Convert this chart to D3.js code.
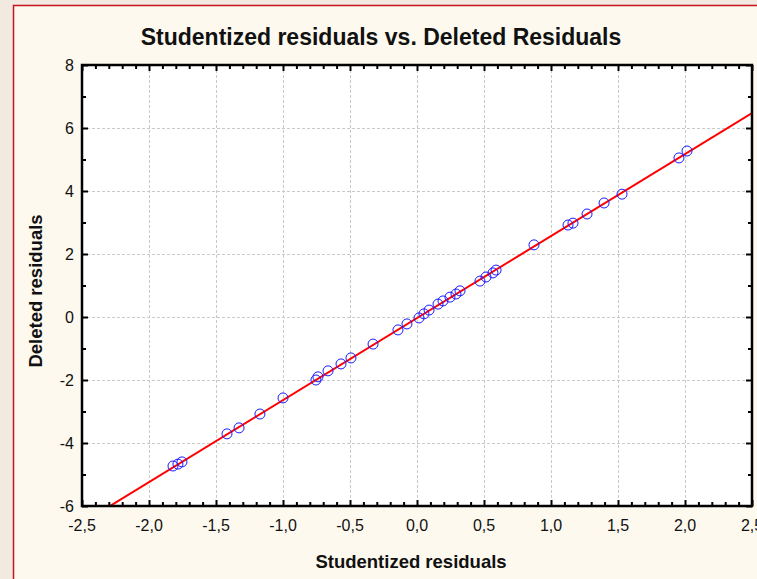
<!DOCTYPE html>
<html>
<head>
<meta charset="utf-8">
<script src="https://cdn.jsdelivr.net/npm/d3@7"></script>
<style>
  html, body { margin: 0; padding: 0; background: #f2e9e1; }
  svg { display: block; }
  text { font-family: "Liberation Sans", Arial, sans-serif; fill: #111; }
</style>
</head>
<body>
<svg id="chart" width="757" height="579"></svg>
<script>
// Residual pairs: studentized residual (x) and deleted residual (y)
const studentized = [
  -1.821, -1.784, -1.754, -1.418, -1.328, -1.172, -1.000, -0.754, -0.739,
  -0.664, -0.567, -0.493, -0.328, -0.142, -0.075, 0.015, 0.052, 0.090,
  0.157, 0.194, 0.246, 0.291, 0.321, 0.470, 0.515, 0.567, 0.590, 0.873,
  1.127, 1.164, 1.269, 1.396, 1.530, 1.955, 2.015
];
const deleted = [
  -4.73, -4.67, -4.60, -3.71, -3.52, -3.08, -2.57, -2.00, -1.90,
  -1.71, -1.49, -1.30, -0.86, -0.41, -0.22, -0.03, 0.10, 0.22,
  0.41, 0.51, 0.63, 0.73, 0.83, 1.14, 1.27, 1.40, 1.49, 2.29,
  2.92, 2.98, 3.27, 3.62, 3.90, 5.05, 5.27
];
// Fitted line: deleted = intercept + slope * studentized
const fitIntercept = -0.034;
const fitSlope = 2.604;

const xTicks = [-2.5, -2.0, -1.5, -1.0, -0.5, 0.0, 0.5, 1.0, 1.5, 2.0, 2.5];
const yTicks = [-6, -4, -2, 0, 2, 4, 6, 8];
const xDomain = [-2.5, 2.5];
const yDomain = [-6, 8];

const titleText = "Studentized residuals vs. Deleted Residuals";
const xTitle = "Studentized residuals";
const yTitle = "Deleted residuals";

const svg = d3.select("#chart");
const W = 757, H = 579;
const plot = { left: 82, right: 752, top: 65, bottom: 506 };

const locale = d3.formatLocale({ decimal: ",", thousands: ".", grouping: [3], currency: ["", ""], minus: "-" });
const fmtX = locale.format(".1f");
const fmtY = locale.format("d");

const x = d3.scaleLinear().domain(xDomain).range([plot.left, plot.right]);
const y = d3.scaleLinear().domain(yDomain).range([plot.bottom, plot.top]);

// Panel with red frame
svg.append("rect")
  .attr("x", 13.5).attr("y", 5.5)
  .attr("width", W + 20).attr("height", H + 20)
  .attr("fill", "#fdf9ef")
  .attr("stroke", "#c8141e").attr("stroke-width", 1.5);

// Plot background
svg.append("rect")
  .attr("x", plot.left).attr("y", plot.top)
  .attr("width", plot.right - plot.left).attr("height", plot.bottom - plot.top)
  .attr("fill", "#ffffff");

// Grid
const grid = svg.append("g").attr("stroke", "#c9c9c9").attr("stroke-width", 1).attr("stroke-dasharray", "3,2");
grid.selectAll("line.gx").data(xTicks.slice(1, -1)).join("line")
  .attr("x1", d => Math.round(x(d)) + 0.5).attr("x2", d => Math.round(x(d)) + 0.5)
  .attr("y1", plot.top).attr("y2", plot.bottom);
grid.selectAll("line.gy").data(yTicks.slice(1, -1)).join("line")
  .attr("y1", d => Math.round(y(d)) + 0.5).attr("y2", d => Math.round(y(d)) + 0.5)
  .attr("x1", plot.left).attr("x2", plot.right);

// Clip for the fitted line
svg.append("clipPath").attr("id", "plotClip")
  .append("rect")
  .attr("x", plot.left).attr("y", plot.top)
  .attr("width", plot.right - plot.left).attr("height", plot.bottom - plot.top);

const xs = [xDomain[0], xDomain[1]];
svg.append("g").attr("clip-path", "url(#plotClip)")
  .append("line")
  .attr("x1", x(xs[0])).attr("y1", y(fitIntercept + fitSlope * xs[0]))
  .attr("x2", x(xs[1])).attr("y2", y(fitIntercept + fitSlope * xs[1]))
  .attr("stroke", "#ff0000").attr("stroke-width", 2);

// Points
svg.append("g").selectAll("circle")
  .data(studentized.map((v, i) => [v, deleted[i]]))
  .join("circle")
  .attr("cx", d => x(d[0])).attr("cy", d => y(d[1]))
  .attr("r", 5)
  .attr("fill", "none").attr("stroke", "#1a1aff").attr("stroke-width", 1);

// Axes: inward ticks on all four sides
const minorX = d3.range(-25, 26).map(i => i / 10).filter(v => Math.abs(Math.round(v * 2) - v * 2) > 1e-6);
const minorY = d3.range(-5, 8, 2);

function ax(axisFn, scale, ticks, size) {
  return axisFn(scale).tickValues(ticks).tickSize(size).tickFormat("");
}
const axes = svg.append("g");
// bottom
axes.append("g").attr("transform", `translate(0,${plot.bottom})`).call(ax(d3.axisTop, x, xTicks, 6));
axes.append("g").attr("transform", `translate(0,${plot.bottom})`).call(ax(d3.axisTop, x, minorX, 4));
// top
axes.append("g").attr("transform", `translate(0,${plot.top})`).call(ax(d3.axisBottom, x, xTicks, 6));
axes.append("g").attr("transform", `translate(0,${plot.top})`).call(ax(d3.axisBottom, x, minorX, 4));
// left
axes.append("g").attr("transform", `translate(${plot.left},0)`).call(ax(d3.axisRight, y, yTicks, 6));
axes.append("g").attr("transform", `translate(${plot.left},0)`).call(ax(d3.axisRight, y, minorY, 4));
// right
axes.append("g").attr("transform", `translate(${plot.right},0)`).call(ax(d3.axisLeft, y, yTicks, 6));
axes.append("g").attr("transform", `translate(${plot.right},0)`).call(ax(d3.axisLeft, y, minorY, 4));
axes.selectAll(".domain").remove();
axes.selectAll(".tick line").attr("stroke", "#000").attr("stroke-width", 2);

// Frame
svg.append("rect")
  .attr("x", plot.left).attr("y", plot.top)
  .attr("width", plot.right - plot.left).attr("height", plot.bottom - plot.top)
  .attr("fill", "none").attr("stroke", "#000").attr("stroke-width", 2.5);

// Tick labels
svg.append("g").selectAll("text").data(xTicks).join("text")
  .attr("x", d => x(d)).attr("y", plot.bottom + 25)
  .attr("text-anchor", "middle").attr("font-size", 16)
  .text(d => fmtX(d));
svg.append("g").selectAll("text").data(yTicks).join("text")
  .attr("x", plot.left - 8).attr("y", d => y(d)).attr("dy", "0.36em")
  .attr("text-anchor", "end").attr("font-size", 16)
  .text(d => fmtY(d));

// Titles
svg.append("text").attr("x", 381).attr("y", 45)
  .attr("text-anchor", "middle").attr("font-size", 23).attr("font-weight", "bold")
  .text(titleText);
svg.append("text").attr("x", 411).attr("y", 568)
  .attr("text-anchor", "middle").attr("font-size", 18.5).attr("font-weight", "bold")
  .text(xTitle);
svg.append("text").attr("transform", "translate(42,291) rotate(-90)")
  .attr("text-anchor", "middle").attr("font-size", 18.5).attr("font-weight", "bold")
  .text(yTitle);
</script>
</body>
</html>
